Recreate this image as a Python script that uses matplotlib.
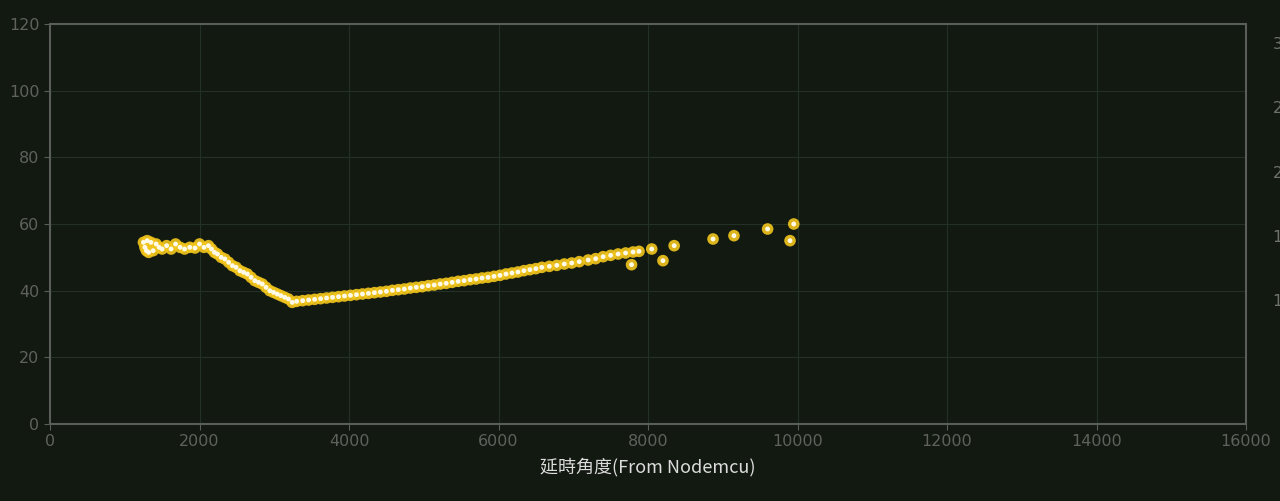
import matplotlib
matplotlib.use("Agg")
import matplotlib.pyplot as plt

delay_x = [1250, 1270, 1290, 1300, 1320, 1350, 1380, 1420, 1460, 1500, 1560, 1620, 1680, 1740, 1800, 1870, 1940, 2000, 2060, 2120, 2160,
           2200, 2240, 2290, 2340, 2390, 2440, 2490, 2540, 2590, 2640, 2690, 2740, 2790, 2840, 2890, 2940, 2990, 3040, 3090, 3140, 3190, 3240,
           3300, 3380, 3460, 3540, 3620, 3700, 3780, 3860, 3940, 4020, 4100, 4180, 4260, 4340, 4420, 4500, 4580, 4660, 4740, 4820, 4900,
           4980, 5060, 5140, 5220, 5300, 5380, 5460, 5540, 5620, 5700, 5780, 5860, 5940, 6020, 6100, 6180, 6260, 6340, 6420, 6500, 6580,
           6680, 6780, 6880, 6980, 7080, 7200, 7300, 7400, 7500, 7600, 7700, 7800, 7880, 7780, 8050, 8200, 8350, 8870, 9150, 9600, 9900, 9950]
angle_y = [54.5, 53.0, 52.0, 55.0, 51.5, 54.5, 52.0, 54.0, 53.0, 52.5, 53.5, 52.5, 54.0, 53.0, 52.5, 53.0, 52.8, 54.0, 53.0, 53.5, 52.5,
           51.5, 51.0, 50.0, 49.5, 48.5, 47.5, 47.0, 46.0, 45.5, 45.0, 44.0, 43.0, 42.5, 42.0, 41.0, 40.0, 39.5, 39.0, 38.5, 38.0, 37.5, 36.5,
           36.8, 37.0, 37.2, 37.4, 37.6, 37.8, 38.0, 38.2, 38.4, 38.6, 38.8, 39.0, 39.2, 39.4, 39.6, 39.8, 40.1, 40.3, 40.5, 40.8, 41.0,
           41.2, 41.5, 41.7, 42.0, 42.2, 42.5, 42.8, 43.0, 43.3, 43.5, 43.8, 44.0, 44.3, 44.6, 45.0, 45.3, 45.6, 46.0, 46.3, 46.6, 47.0,
           47.3, 47.6, 48.0, 48.3, 48.7, 49.2, 49.6, 50.2, 50.6, 51.0, 51.3, 51.6, 51.8, 47.8, 52.5, 49.0, 53.5, 55.5, 56.5, 58.5, 55.0, 60.0]

right_ticks = [10, 15, 20, 25, 30]

bg = "#121911"
fig = plt.figure(figsize=(12.8, 5.01), dpi=100, facecolor=bg)
ax = fig.add_axes([50/1280, (501-424)/501, 1196/1280, 400/501], facecolor=bg)
ax.scatter(delay_x, angle_y, s=70, color="#f2c51c", edgecolors="none", alpha=0.9, zorder=3)
ax.scatter(delay_x, angle_y, s=12, color="#fffbe8", edgecolors="none", zorder=4)
ax.set_xlim(0, 16000)
ax.set_ylim(0, 120)
ax.set_xticks(range(0, 16001, 2000))
ax.set_yticks(range(0, 121, 20))
ax.grid(True, color="#233025", linewidth=0.8)
ax.set_axisbelow(True)
for s in ax.spines.values():
    s.set_color("#5a5e58"); s.set_linewidth(1.5)
ax.tick_params(colors="#5a5e58", labelcolor="#5f625c", labelsize=11.5, length=4)
ax.set_xlabel("延時角度(From Nodemcu)", color="#dcdcdc", fontsize=13,
              family=["Noto Sans CJK TC", "DejaVu Sans"], labelpad=6)

ax2 = ax.twinx()
ax2.set_ylim(0.35, 31.5)
ax2.set_yticks(right_ticks)
ax2.tick_params(colors=bg, labelcolor="#6f726c", labelsize=11.5, length=0, pad=19)
for s in ax2.spines.values():
    s.set_visible(False)

fig.savefig("out.png", dpi=100, facecolor=bg)
